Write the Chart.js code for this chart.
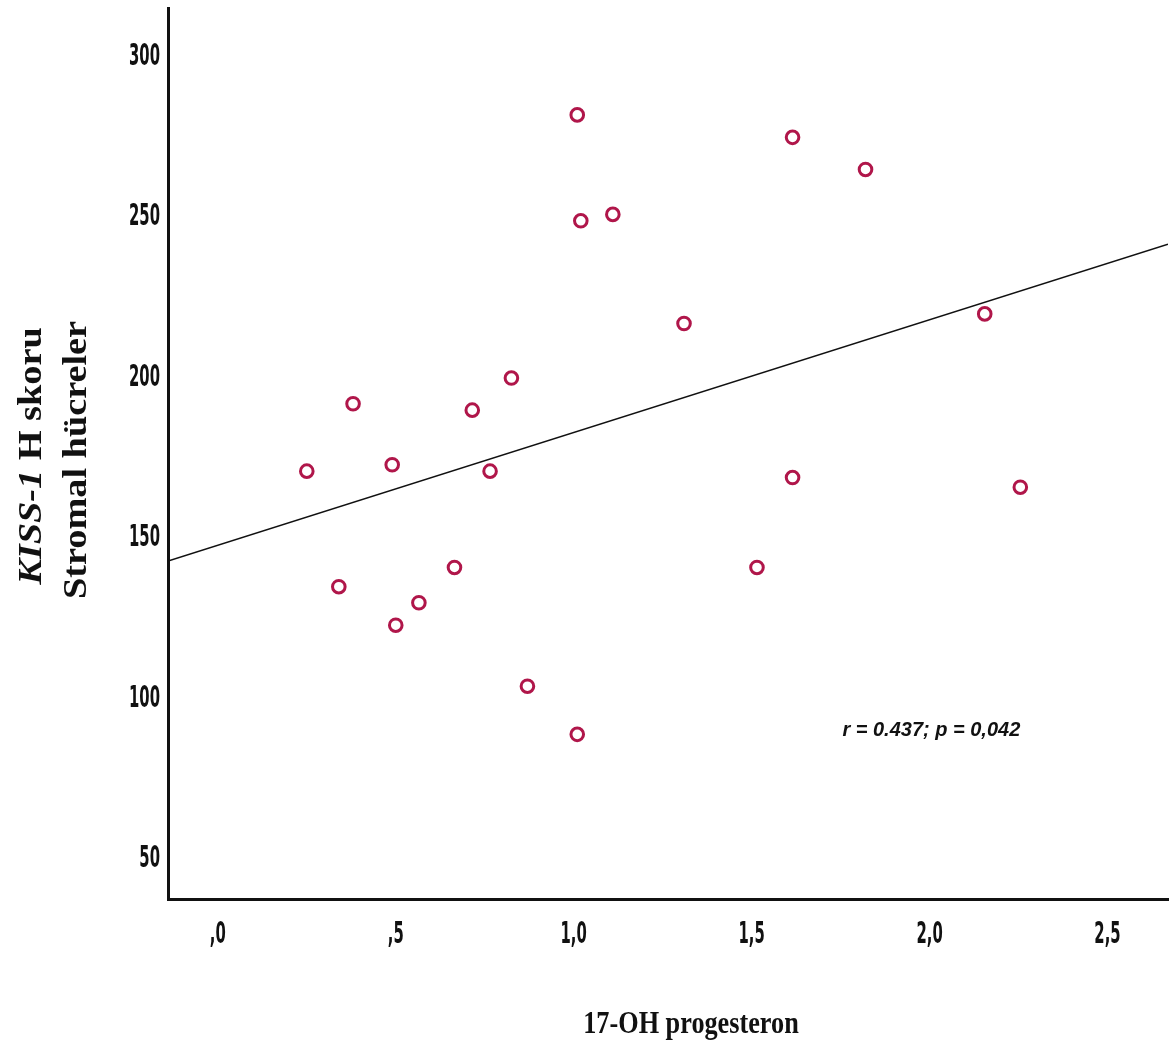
<!DOCTYPE html>
<html>
<head>
<meta charset="utf-8">
<script src="https://cdn.jsdelivr.net/npm/chart.js@4.4.1/dist/chart.umd.min.js"></script>
<style>
  html, body { margin: 0; padding: 0; background: #fff; }
</style>
</head>
<body>
<canvas id="myChart" width="1171" height="1048"></canvas>
<script>
// values
const progesteron = [0.25, 0.34, 0.38, 0.49, 0.50, 0.565, 0.665, 0.715, 0.765, 0.825, 0.87,
                     1.01, 1.02, 1.01, 1.11, 1.31, 1.515, 1.615, 1.615, 1.82, 2.155, 2.255];
const hScore = [171, 135, 192, 173, 123, 130, 141, 190, 171, 200, 104,
                282, 249, 89, 251, 217, 141, 275, 169, 265, 220, 166];

// fit line end points (as drawn)
const fitX = [-0.14, 2.67];
const fitY = [143.0, 241.7];

const xTicks = [0, 0.5, 1.0, 1.5, 2.0, 2.5];
const xTickLabels = [',0', ',5', '1,0', '1,5', '2,0', '2,5'];
const yTicks = [50, 100, 150, 200, 250, 300];
const yTickLabels = ['50', '100', '150', '200', '250', '300'];

const statText = 'r = 0.437; p = 0,042';
const statPos = [2.005, 90.3];

const markerColor = '#b0164a';
const tickFont = 'bold 30px "Liberation Sans Narrow", "DejaVu Sans Condensed", sans-serif';
const serifBold = 'bold 33px "Liberation Serif", serif';
const serifBoldItalic = 'italic bold 33px "Liberation Serif", serif';

function scaledText(c, str, x, y, sx, sy) {
    c.save();
    c.translate(x, y);
    c.scale(sx, sy);
    c.fillText(str, 0, 0);
    c.restore();
}

// draws tick labels, axis titles and the r/p note
const labelPlugin = {
    id: 'labels',
    afterDraw(chart) {
        const c = chart.ctx;
        const xs = chart.scales.x;
        const ys = chart.scales.y;
        c.save();
        c.fillStyle = '#111';

        c.font = tickFont;
        c.textAlign = 'center';
        c.textBaseline = 'middle';
        xTicks.forEach((v, i) => {
            scaledText(c, xTickLabels[i], xs.getPixelForValue(v), 935, 0.55, 1);
        });
        c.textAlign = 'right';
        yTicks.forEach((v, i) => {
            scaledText(c, yTickLabels[i], 160, ys.getPixelForValue(v), 0.55, 1);
        });

        // x title
        c.font = 'bold 32px "Liberation Serif", serif';
        c.textAlign = 'center';
        c.textBaseline = 'alphabetic';
        scaledText(c, '17-OH progesteron', 691, 1033, 0.82, 1);

        // y title, two lines, rotated
        c.textAlign = 'left';
        c.textBaseline = 'middle';
        const len = 1.16;
        c.save();
        c.translate(32, 456);
        c.rotate(-Math.PI / 2);
        c.scale(len, 1);
        c.font = serifBoldItalic;
        const w1 = c.measureText('KISS-1').width;
        c.font = serifBold;
        const w2 = c.measureText(' H skoru').width;
        const start = -(w1 + w2) / 2;
        c.font = serifBoldItalic;
        c.fillText('KISS-1', start, 0);
        c.font = serifBold;
        c.fillText(' H skoru', start + w1, 0);
        c.restore();

        c.save();
        c.translate(77, 460);
        c.rotate(-Math.PI / 2);
        c.scale(len, 1);
        c.font = serifBold;
        c.textAlign = 'center';
        c.fillText('Stromal hücreler', 0, 0);
        c.restore();

        // stat note
        c.font = 'italic bold 20px "Liberation Sans", sans-serif';
        c.textAlign = 'center';
        c.textBaseline = 'middle';
        c.fillText(statText, xs.getPixelForValue(statPos[0]), ys.getPixelForValue(statPos[1]));
        c.restore();
    }
};

const ctx = document.getElementById('myChart').getContext('2d');
const chart = new Chart(ctx, {
    type: 'scatter',
    data: {
        datasets: [
            {
                label: 'H skoru',
                data: progesteron.map((x, i) => ({ x: x, y: hScore[i] })),
                pointStyle: 'circle',
                pointRadius: 6.3,
                pointBorderWidth: 3,
                borderColor: markerColor,
                backgroundColor: 'rgba(255,255,255,0)',
                order: 1
            },
            {
                label: 'fit',
                data: fitX.map((x, i) => ({ x: x, y: fitY[i] })),
                showLine: true,
                borderColor: '#111',
                borderWidth: 1.6,
                pointRadius: 0,
                order: 2
            }
        ]
    },
    options: {
        responsive: false,
        animation: false,
        layout: { autoPadding: false, padding: { top: 8, right: 3, left: 0, bottom: 0 } },
        plugins: {
            legend: { display: false },
            tooltip: { enabled: false }
        },
        scales: {
            x: {
                type: 'linear',
                min: -0.14,
                max: 2.67,
                grid: { display: false, drawTicks: false },
                border: { display: true, color: '#111', width: 3 },
                ticks: { display: false },
                afterBuildTicks: (s) => { s.ticks = xTicks.map(v => ({ value: v })); },
                afterFit: (s) => { s.height = 149; }
            },
            y: {
                type: 'linear',
                min: 37.7,
                max: 315.3,
                grid: { display: false, drawTicks: false },
                border: { display: true, color: '#111', width: 3 },
                ticks: { display: false },
                afterBuildTicks: (s) => { s.ticks = yTicks.map(v => ({ value: v })); },
                afterFit: (s) => { s.width = 168; }
            }
        }
    },
    plugins: [labelPlugin]
});
</script>
</body>
</html>
